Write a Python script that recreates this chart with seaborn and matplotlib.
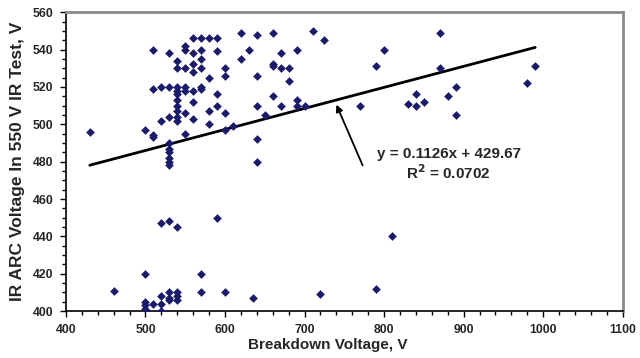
import matplotlib
matplotlib.use("Agg")
import matplotlib.pyplot as plt
from matplotlib.ticker import MultipleLocator
import numpy as np
import pandas as pd
import seaborn as sns

# ---- data ----
breakdown_v = [430, 460, 500, 510, 510, 509, 509, 520, 520, 530, 530, 530, 530, 530, 530, 530, 530, 530,
               540, 540, 540, 540, 540, 540, 540, 540, 540, 540,
               550, 550, 550, 550, 550, 550, 550,
               560, 560, 560, 560, 560, 560, 560,
               570, 570, 570, 570, 570, 570,
               580, 580, 580, 580,
               590, 590, 590, 590,
               600, 600, 600, 600,
               610, 620, 620, 630,
               640, 640, 640, 640, 640,
               650, 660, 660, 660, 660,
               670, 670, 670, 680, 680,
               690, 690, 690, 700, 710, 725,
               770, 790, 800, 830, 840, 840, 850,
               870, 870, 880, 890, 890, 980, 990,
               520, 530, 540, 590, 810, 500, 570, 790, 570, 600, 635, 720,
               500, 500, 500, 510, 520, 520, 520, 530, 530, 530, 540, 540, 540]
arc_v = [496, 411, 497, 494, 493, 540, 519, 520, 502, 538, 520, 504, 490, 487, 485, 482, 480, 478,
         534, 530, 520, 518, 516, 513, 510, 507, 504, 502,
         542, 540, 530, 520, 518, 506, 495,
         546, 538, 532, 528, 518, 512, 503,
         546, 540, 535, 530, 520, 519,
         546, 525, 507, 500,
         546, 539, 516, 510,
         530, 526, 506, 497,
         499, 549, 535, 540,
         548, 526, 510, 492, 480,
         505, 549, 532, 531, 515,
         538, 530, 510, 530, 523,
         540, 513, 510, 510, 550, 545,
         510, 531, 540, 511, 516, 510, 512,
         549, 530, 515, 520, 505, 522, 531,
         447, 448, 445, 450, 440, 420, 420, 412, 410, 410, 407, 409,
         405, 403, 401, 404, 408, 404, 400, 410, 407, 406, 410, 408, 406]

trend_slope = 0.1126
trend_intercept = 429.67
trend_r2 = 0.0702

x_ticks = [400, 500, 600, 700, 800, 900, 1000, 1100]
y_ticks = [400, 420, 440, 460, 480, 500, 520, 540, 560]

# ---- style ----
sns.set_style("white")
plt.rcParams['font.family'] = ['Liberation Sans', 'DejaVu Sans']
plt.rcParams['font.weight'] = 'bold'

df = pd.DataFrame({"x": breakdown_v, "y": arc_v})
xs = np.array([min(breakdown_v), max(breakdown_v)], dtype=float)
trend = pd.DataFrame({"x": xs, "y": trend_slope * xs + trend_intercept})

fig = plt.figure(figsize=(6.4, 3.58), dpi=100)
ax = fig.add_axes([0.103, 0.131, 0.870, 0.835])

sns.lineplot(data=trend, x="x", y="y", ax=ax, color="black", linewidth=2.0, zorder=2)
sns.scatterplot(data=df, x="x", y="y", ax=ax, marker="D", s=16, color="#1b1b6e",
                edgecolor="#1b1b6e", linewidth=0.4, zorder=3)

ax.set_xlim(400, 1100)
ax.set_ylim(400, 560)
ax.set_xticks(x_ticks)
ax.set_yticks(y_ticks)
ax.set_xticklabels([str(v) for v in x_ticks], fontsize=8.8, fontweight='bold')
ax.set_yticklabels([str(v) for v in y_ticks], fontsize=8.8, fontweight='bold')
ax.xaxis.set_minor_locator(MultipleLocator(20))
ax.yaxis.set_minor_locator(MultipleLocator(5))
ax.tick_params(axis='both', which='major', direction='out', length=4, width=1, color='black', pad=5)
ax.tick_params(axis='both', which='minor', direction='out', length=3, width=1, color='black')
ax.tick_params(bottom=True, left=True, which='both')

ax.set_xlabel("Breakdown Voltage, V", fontsize=11, fontweight='bold')
ax.xaxis.set_label_coords(0.47, -0.09)
ax.set_ylabel("IR ARC Voltage In 550 V IR Test, V", fontsize=12.5, fontweight='bold')
ax.yaxis.set_label_coords(-0.074, 0.5)

for side in ['left', 'bottom']:
    ax.spines[side].set_color('black')
    ax.spines[side].set_linewidth(1.2)
for side in ['top', 'right']:
    ax.spines[side].set_color('#8a8a8a')
    ax.spines[side].set_linewidth(2.0)

eq = f"y = {trend_slope}x + {trend_intercept}\nR$^2$ = {trend_r2}"
ax.text(881, 478.4, eq, ha='center', va='center', fontsize=11, fontweight='bold', linespacing=1.1)
ax.annotate("", xy=(740, 510.5), xytext=(773, 478),
            arrowprops=dict(arrowstyle='-|>', color='black', lw=1.3, mutation_scale=10,
                            shrinkA=0, shrinkB=0))

fig.savefig("out.png", dpi=100)
